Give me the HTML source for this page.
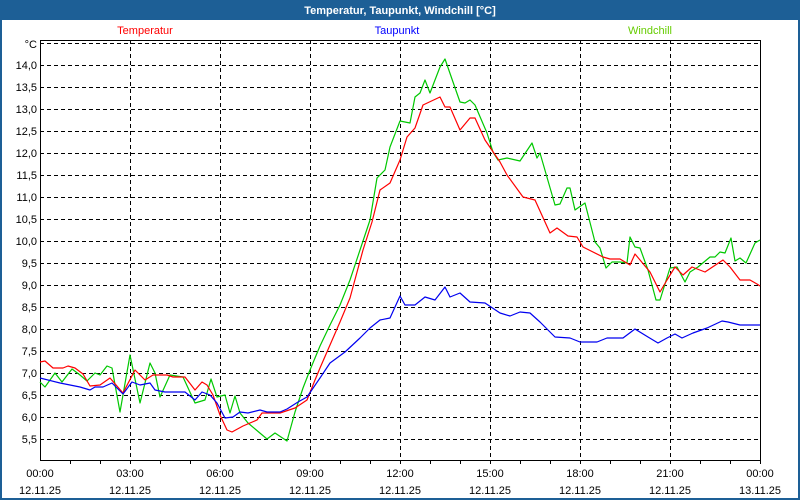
<!DOCTYPE html>
<html><head><meta charset="utf-8"><style>
html,body{margin:0;padding:0;background:#fff}
svg{display:block}
text{font-family:"Liberation Sans",sans-serif;font-size:11px}
</style></head><body>
<svg width="800" height="500" viewBox="0 0 800 500" xmlns="http://www.w3.org/2000/svg">
<rect x="0" y="0" width="800" height="500" fill="#fff"/>
<rect x="1" y="1" width="798" height="498" fill="none" stroke="#1d5f96" stroke-width="2"/>
<rect x="0" y="0" width="800" height="20" fill="#1d5f96"/>
<text x="400" y="14" fill="#fff" font-weight="bold" text-anchor="middle">Temperatur, Taupunkt, Windchill [°C]</text>
<text x="145" y="34" fill="#f00" text-anchor="middle">Temperatur</text>
<text x="397" y="34" fill="#00f" text-anchor="middle">Taupunkt</text>
<text x="650" y="34" fill="#6c0" text-anchor="middle">Windchill</text>
<g stroke="#000" stroke-width="1" stroke-dasharray="4,3" fill="none">
<path d="M40,43.5H760M40,65.5H760M40,87.5H760M40,109.5H760M40,131.5H760M40,153.5H760M40,175.5H760M40,197.5H760M40,219.5H760M40,241.5H760M40,263.5H760M40,285.5H760M40,307.5H760M40,329.5H760M40,351.5H760M40,373.5H760M40,395.5H760M40,417.5H760M40,439.5H760"/>
<path d="M130.5,40V460M220.5,40V460M310.5,40V460M400.5,40V460M490.5,40V460M580.5,40V460M670.5,40V460"/>
</g>
<rect x="40.5" y="40.5" width="720" height="420" fill="none" stroke="#000"/>
<path stroke="#000" d="M70.5,460V464M100.5,460V464M130.5,460V464M160.5,460V464M190.5,460V464M220.5,460V464M250.5,460V464M280.5,460V464M310.5,460V464M340.5,460V464M370.5,460V464M400.5,460V464M430.5,460V464M460.5,460V464M490.5,460V464M520.5,460V464M550.5,460V464M580.5,460V464M610.5,460V464M640.5,460V464M670.5,460V464M700.5,460V464M730.5,460V464M760.5,460V464"/>
<g text-anchor="end" fill="#000">
<text x="37" y="48">°C</text>
<text x="37" y="69">14,0</text><text x="37" y="91">13,5</text><text x="37" y="113">13,0</text><text x="37" y="135">12,5</text><text x="37" y="157">12,0</text><text x="37" y="179">11,5</text><text x="37" y="201">11,0</text><text x="37" y="223">10,5</text><text x="37" y="245">10,0</text><text x="37" y="267">9,5</text><text x="37" y="289">9,0</text><text x="37" y="311">8,5</text><text x="37" y="333">8,0</text><text x="37" y="355">7,5</text><text x="37" y="377">7,0</text><text x="37" y="399">6,5</text><text x="37" y="421">6,0</text><text x="37" y="443">5,5</text>
</g>
<g text-anchor="middle" fill="#000">
<text x="40" y="477">00:00</text><text x="40" y="494">12.11.25</text>
<text x="130" y="477">03:00</text><text x="130" y="494">12.11.25</text>
<text x="220" y="477">06:00</text><text x="220" y="494">12.11.25</text>
<text x="310" y="477">09:00</text><text x="310" y="494">12.11.25</text>
<text x="400" y="477">12:00</text><text x="400" y="494">12.11.25</text>
<text x="490" y="477">15:00</text><text x="490" y="494">12.11.25</text>
<text x="580" y="477">18:00</text><text x="580" y="494">12.11.25</text>
<text x="670" y="477">21:00</text><text x="670" y="494">12.11.25</text>
<text x="760" y="477">00:00</text><text x="760" y="494">13.11.25</text>
</g>
<g fill="none" stroke-width="1.2" stroke-linejoin="round">
<polyline stroke="#00c800" points="40,382 45,387 55,373 62,382 72,369 80,375 87,381 95,373 100,375 107,366 112,368 120,412 130,355 140,403 150,363 155,373 160,397 170,375 183,377 195,403 205,400 211,379 217,397 225,395 230,413 235,396 240,413 248,423 267,439 275,433 287,441 295,412 303,388 310,370 320,346 330,325 340,305 350,280 360,250 370,220 377,178 385,170 390,147 400,121 410,123 415,97 420,93 425,80 430,93 440,67 445,59 453,82 460,102 465,103 470,100 475,105 487,133 493,152 498,160 507,158 520,161 532,143 537,158 540,153 555,205 560,204 567,188 570,188 575,210 585,203 595,242 600,248 606,268 612,262 620,262 627,263 630,237 635,247 640,248 648,270 656,300 660,300 670,268 677,267 685,282 690,272 698,267 710,257 715,257 720,252 725,253 731,238 735,261 740,258 746,263 755,243 760,240"/>
<polyline stroke="#f00" points="40,362 45,361 53,368 63,368 68,366 75,368 83,374 90,386 100,385 110,378 123,393 135,370 145,380 153,375 167,375 173,377 185,377 195,390 202,382 207,385 213,395 220,415 227,430 232,432 243,426 257,420 262,413 280,413 295,408 307,400 315,380 320,368 330,345 340,322 350,298 363,250 372,222 380,190 390,183 400,160 407,137 415,128 423,105 440,97 445,107 450,107 460,130 470,118 475,118 485,140 500,162 507,175 523,197 535,200 550,233 557,228 568,236 577,237 583,247 603,257 610,259 620,259 630,265 635,254 650,272 660,292 667,280 675,267 683,275 692,267 705,272 723,260 730,267 740,280 750,280 757,284 760,286"/>
<polyline stroke="#0000f0" points="40,378 60,383 80,387 90,390 95,387 103,387 112,383 123,394 132,382 140,385 150,383 155,390 165,392 185,392 195,400 202,392 210,395 217,403 225,418 233,417 240,412 248,413 260,410 267,412 280,412 287,409 298,402 307,397 320,378 330,363 345,352 360,338 370,328 380,320 390,318 400,296 405,305 415,305 425,297 435,300 445,287 450,297 460,293 470,302 485,303 500,313 510,316 520,312 530,313 540,322 555,337 570,338 580,342 597,342 607,338 623,338 635,329 648,337 658,343 667,338 675,334 682,338 693,333 707,328 722,321 728,322 740,325 760,325"/>
</g>
</svg>
</body></html>
